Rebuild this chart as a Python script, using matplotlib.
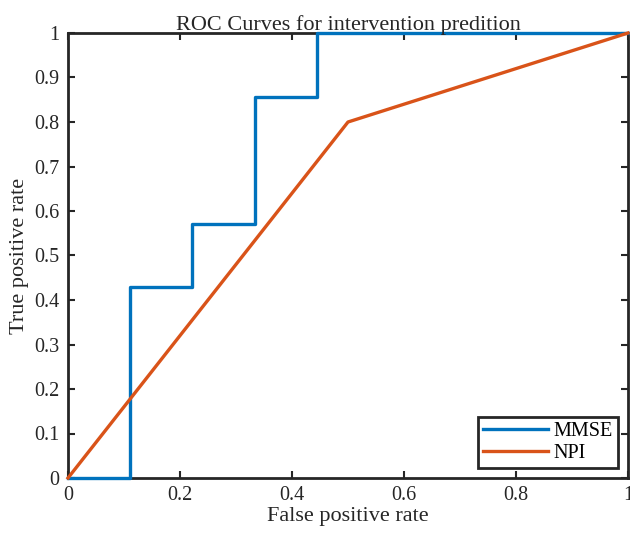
import matplotlib
matplotlib.use("Agg")
import matplotlib.pyplot as plt

mmse_fpr = [0, 1/9, 1/9, 2/9, 2/9, 3/9, 3/9, 4/9, 4/9, 1.0]
mmse_tpr = [0, 0, 3/7, 3/7, 4/7, 4/7, 6/7, 6/7, 1.0, 1.0]
npi_fpr = [0, 0.5, 1.0]
npi_tpr = [0, 0.8, 1.0]
xticks = [0, 0.2, 0.4, 0.6, 0.8, 1]
yticks = [0, 0.1, 0.2, 0.3, 0.4, 0.5, 0.6, 0.7, 0.8, 0.9, 1]
xtick_labels = ["0", "0.2", "0.4", "0.6", "0.8", "1"]
ytick_labels = ["0", "0.1", "0.2", "0.3", "0.4", "0.5", "0.6", "0.7", "0.8", "0.9", "1"]

plt.rcParams['font.family'] = ['Liberation Serif', 'DejaVu Serif']

fig = plt.figure(figsize=(6.30, 5.34), dpi=100)
ax = fig.add_axes([68/630, 1 - 478/534, (628-68)/630, (478-33)/534])

ax.plot(mmse_fpr, mmse_tpr, color='#0072BD', lw=2.4, label='MMSE', clip_on=False, zorder=3)
ax.plot(npi_fpr, npi_tpr, color='#D95319', lw=2.4, label='NPI', clip_on=False, zorder=3)

ax.set_xlim(0, 1)
ax.set_ylim(0, 1)
ax.set_xticks(xticks)
ax.set_xticklabels(xtick_labels)
ax.set_yticks(yticks)
ax.set_yticklabels(ytick_labels)
ax.tick_params(direction='in', top=True, right=True, length=5, width=1.5,
               labelsize=14.5, colors='#262626', labelcolor='#262626', pad=6)
for s in ax.spines.values():
    s.set_linewidth(2)
    s.set_color('#262626')
    s.set_zorder(2.5)

ax.set_xlabel('False positive rate', fontsize=16, color='#262626', labelpad=1)
ax.set_ylabel('True positive rate', fontsize=16, color='#262626', labelpad=4)
ax.set_title('ROC Curves for intervention predition', fontsize=16, color='#262626', pad=2)

leg = ax.legend(loc='lower right', fontsize=14.5, frameon=True, fancybox=False,
                edgecolor='#262626', handlelength=3.2, borderaxespad=0.5,
                borderpad=0.25, labelspacing=0.15, handletextpad=0.3, framealpha=1)
leg.get_frame().set_linewidth(2)

fig.savefig('out.png', dpi=100)
